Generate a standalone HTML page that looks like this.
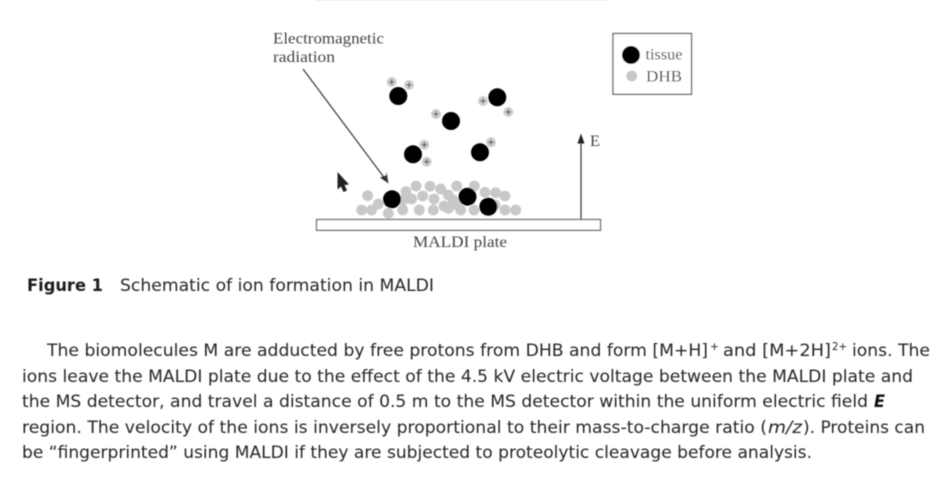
<!DOCTYPE html>
<html>
<head>
<meta charset="utf-8">
<style>
html,body{margin:0;padding:0;background:#fff;width:942px;height:486px;overflow:hidden}
svg{display:block}
.s{font-family:"Liberation Serif",serif;fill:#444;font-size:16px}
.t{font-family:"DejaVu Sans","Liberation Sans",sans-serif;fill:#252525;font-size:16.500px}
.d circle{fill:#c8c8c8}
.b circle{fill:#000}
.c circle{fill:#cfcfcf}
.c path{stroke:#444;stroke-width:1;fill:none}
</style>
</head>
<body>
<svg width="942" height="486" viewBox="0 0 942 486" xmlns="http://www.w3.org/2000/svg">
<defs>
<filter id="f" x="-5%" y="-5%" width="110%" height="110%"><feGaussianBlur stdDeviation="0.5"/></filter>
</defs>
<rect x="316" y="0" width="290" height="1" fill="#f1f1f1"/>
<g filter="url(#f)">
<text class="s" x="273" y="43.500" textLength="111" lengthAdjust="spacingAndGlyphs">Electromagnetic</text>
<text class="s" x="273" y="62" textLength="62" lengthAdjust="spacingAndGlyphs">radiation</text>
<path d="M303 69L386 180" stroke="#444" stroke-width="1.300" fill="none"/>
<path d="M388.500 183.500L380 177.500L386 175.500L386.500 172Z" fill="#333"/>

<g class="d">
<circle cx="367.700" cy="195.700" r="5.400"/><circle cx="361.700" cy="210" r="5.400"/><circle cx="371.700" cy="210" r="5.400"/><circle cx="378.300" cy="204" r="5.400"/>
<circle cx="388.300" cy="213.300" r="5.400"/><circle cx="402.700" cy="210" r="5.400"/><circle cx="406" cy="191.700" r="5.400"/><circle cx="403.300" cy="200" r="5.400"/>
<circle cx="416" cy="186" r="5.400"/><circle cx="430" cy="186.300" r="5.400"/><circle cx="440.700" cy="189" r="5.400"/><circle cx="456.700" cy="186" r="5.400"/><circle cx="474.300" cy="186" r="5.400"/>
<circle cx="411.700" cy="199" r="5.400"/><circle cx="422.700" cy="196" r="5.400"/><circle cx="434" cy="199" r="5.400"/><circle cx="448.300" cy="195" r="5.400"/>
<circle cx="419.300" cy="210" r="5.400"/><circle cx="433.300" cy="210" r="5.400"/><circle cx="444" cy="206" r="5.400"/><circle cx="453.300" cy="200" r="5.400"/><circle cx="448.300" cy="208.300" r="5.400"/><circle cx="456.700" cy="205" r="5.400"/>
<circle cx="460.700" cy="210" r="5.400"/><circle cx="474" cy="210" r="5.400"/><circle cx="485" cy="192.300" r="5.400"/><circle cx="495.700" cy="192.700" r="5.400"/><circle cx="505" cy="196" r="5.400"/>
<circle cx="495" cy="205" r="5.400"/><circle cx="505" cy="210" r="5.400"/><circle cx="515.700" cy="210" r="5.400"/>
</g>

<g class="c">
<circle cx="391.700" cy="82" r="5"/><path d="M389 82h5.400M391.700 79.300v5.400"/>
<circle cx="409" cy="85" r="5"/><path d="M406.300 85h5.400M409 82.300v5.400"/>
<circle cx="436" cy="114" r="5"/><path d="M433.300 114h5.400M436 111.300v5.400"/>
<circle cx="483" cy="101" r="5"/><path d="M480.300 101h5.400M483 98.300v5.400"/>
<circle cx="508.300" cy="112" r="5"/><path d="M505.600 112h5.400M508.300 109.300v5.400"/>
<circle cx="491" cy="142.300" r="5"/><path d="M488.300 142.300h5.400M491 139.600v5.400"/>
<circle cx="424.300" cy="144.700" r="5"/><path d="M421.600 144.700h5.400M424.300 142v5.400"/>
<circle cx="426.700" cy="161.700" r="5"/><path d="M424 161.700h5.400M426.700 159v5.400"/>
</g>

<g class="b">
<circle cx="398.300" cy="96" r="9"/><circle cx="451" cy="121" r="9"/><circle cx="497.300" cy="97.300" r="9"/>
<circle cx="413" cy="154.300" r="9"/><circle cx="480" cy="152.300" r="9"/>
<circle cx="392" cy="199.300" r="9"/><circle cx="467.500" cy="196.700" r="9"/><circle cx="488.300" cy="206.700" r="9"/>
</g>

<path d="M337.500 172L337.500 189.500L341 186.500L343.500 192L347 190.500L344.500 185L349 184.500Z" fill="#222"/>

<rect x="316.500" y="219.500" width="284" height="10.800" fill="#fff" stroke="#777" stroke-width="1.400"/>
<text class="s" x="413" y="247" textLength="94" lengthAdjust="spacingAndGlyphs">MALDI plate</text>

<path d="M581 219V140" stroke="#444" stroke-width="1.300" fill="none"/>
<path d="M581 133.500L584.500 143.500H577.500Z" fill="#222"/>
<text class="s" x="590" y="146" textLength="10" lengthAdjust="spacingAndGlyphs">E</text>

<rect x="613" y="33.500" width="78.500" height="60.800" fill="#fff" stroke="#555" stroke-width="1.200"/>
<circle cx="631" cy="55" r="9" fill="#000"/>
<circle cx="631.700" cy="76" r="5.400" fill="#c8c8c8"/>
<text class="s" x="645.500" y="59.500" textLength="37" lengthAdjust="spacingAndGlyphs">tissue</text>
<text class="s" x="646" y="81.700" textLength="36" lengthAdjust="spacingAndGlyphs">DHB</text>

<text class="t" x="27" y="291" textLength="76" lengthAdjust="spacingAndGlyphs" style="font-weight:bold;fill:#1c1c1c">Figure 1</text>
<text class="t" x="120" y="291" textLength="314" lengthAdjust="spacingAndGlyphs">Schematic of ion formation in MALDI</text>

<text class="t" x="47" y="356" textLength="661" lengthAdjust="spacingAndGlyphs">The biomolecules M are adducted by free protons from DHB and form [M+H]</text>
<text class="t" x="710" y="350" style="font-size:10.500px">+</text>
<text class="t" x="723" y="356" textLength="108" lengthAdjust="spacingAndGlyphs">and [M+2H]</text>
<text class="t" x="832" y="350" style="font-size:10.500px" textLength="15" lengthAdjust="spacingAndGlyphs">2+</text>
<text class="t" x="852" y="356" textLength="78" lengthAdjust="spacingAndGlyphs">ions. The</text>

<text class="t" x="22" y="382" textLength="891" lengthAdjust="spacingAndGlyphs">ions leave the MALDI plate due to the effect of the 4.5 kV electric voltage between the MALDI plate and</text>

<text class="t" x="22" y="407" textLength="846" lengthAdjust="spacingAndGlyphs">the MS detector, and travel a distance of 0.5 m to the MS detector within the uniform electric field</text>
<text class="t" x="874" y="407" textLength="11" lengthAdjust="spacingAndGlyphs" style="font-weight:bold;font-style:italic;fill:#111">E</text>

<text class="t" x="22" y="433" textLength="745" lengthAdjust="spacingAndGlyphs">region. The velocity of the ions is inversely proportional to their mass-to-charge ratio (</text>
<text class="t" x="768" y="433" textLength="34" lengthAdjust="spacingAndGlyphs" style="font-style:italic">m/z</text>
<text class="t" x="803" y="433" textLength="122" lengthAdjust="spacingAndGlyphs">). Proteins can</text>

<text class="t" x="22" y="458" textLength="790" lengthAdjust="spacingAndGlyphs">be “fingerprinted” using MALDI if they are subjected to proteolytic cleavage before analysis.</text>
</g>
</svg>
</body>
</html>
